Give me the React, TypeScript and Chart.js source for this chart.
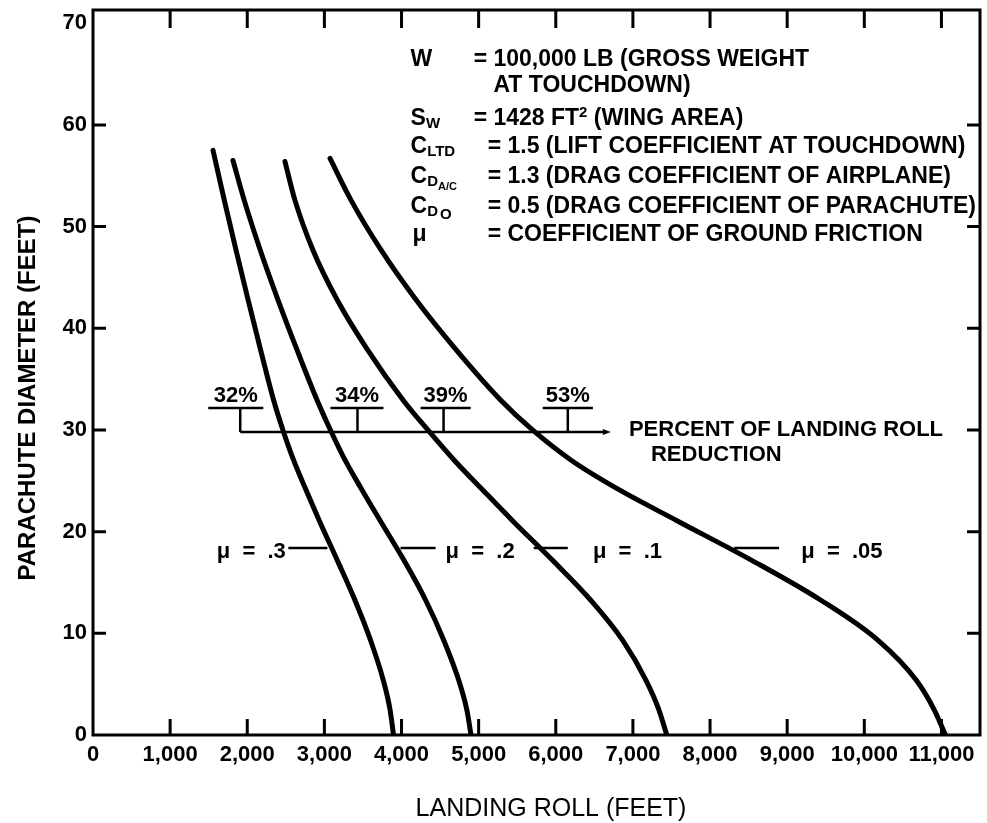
import React, { useEffect, useRef } from 'react';
import { Chart, registerables } from 'chart.js';

Chart.register(...registerables);

// ---- axis ticks ----
const xTickValues = [0, 1000, 2000, 3000, 4000, 5000, 6000, 7000, 8000, 9000, 10000, 11000];
const xTickLabels = ['0', '1,000', '2,000', '3,000', '4,000', '5,000', '6,000', '7,000', '8,000', '9,000', '10,000', '11,000'];
const yTickValues = [0, 10, 20, 30, 40, 50, 60, 70];
const yTickLabels = ['0', '10', '20', '30', '40', '50', '60', '70'];

// ---- curves (landing roll ft, parachute diameter ft) ----
const curveY = [52.6, 47.7, 42.8, 37.9, 32.9, 30.0, 27.0, 24.1, 21.1, 17.2, 13.3, 9.3, 5.4, 2.5, 0];
const mu30X = [1556, 1702, 1854, 2011, 2172, 2343, 2462, 2602, 2762, 2933, 3166, 3394, 3599, 3763, 3851, 3896];
const mu30Y = [57.5, ...curveY];
const mu20X = [1815, 1960, 2168, 2398, 2644, 2907, 3078, 3270, 3488, 3722, 4030, 4310, 4549, 4741, 4846, 4901];
const mu20Y = [56.5, ...curveY];
const mu10X = [2489, 2618, 2851, 3165, 3558, 4024, 4341, 4686, 5053, 5436, 5955, 6448, 6868, 7168, 7336, 7439];
const mu10Y = [56.4, ...curveY];
const mu05X = [3073, 3345, 3734, 4188, 4706, 5290, 5698, 6204, 6826, 7565, 8535, 9427, 10179, 10672, 10905, 11052];
const mu05Y = [56.7, ...curveY];

// ---- curve labels ----
const muLabels = ['μ = .3', 'μ = .2', 'μ = .1', 'μ = .05'];
const muLeaderStart = [2532, 3987, 5714, 8312];
const muLeaderEnd = [3039, 4442, 6156, 8896];
const muTextX = [2500, 4571, 6481, 9182];
const muTextAlign = ['right', 'left', 'left', 'left'];
const muLeaderY = 18.4;
const muTextY = 18.0;

// ---- percent of landing roll reduction ----
const pctLabels = ['32%', '34%', '39%', '53%'];
const pctStubX = [1909, 3429, 4545, 6156];
const pctBarStart = [1494, 3078, 4247, 5831];
const pctBarEnd = [2208, 3766, 4896, 6481];
const pctLabelY = 33.3;
const pctBarY = 32.15;
const pctLineY = 29.8;
const pctLineEnd = 6714;
const pctTitle = ['PERCENT OF LANDING ROLL', 'REDUCTION'];
const pctTitleX = [6948, 7234];
const pctTitleY = [30.0, 27.5];

// ---- parameter block ----
const paramRowsY = [66.4, 63.9, 60.6, 57.9, 54.9, 52.0, 49.2];

const FONT = '"Liberation Sans", Arial, Helvetica, sans-serif';

const overlayPlugin = {
  id: 'overlay',
  afterDraw(chart: any) {
    const { ctx, chartArea: ca, scales } = chart;
    const X = (v: number) => scales.x.getPixelForValue(v);
    const Y = (v: number) => scales.y.getPixelForValue(v);
    ctx.save();
    ctx.strokeStyle = '#000';
    ctx.fillStyle = '#000';
    ctx.lineCap = 'butt';

    // frame
    ctx.lineWidth = 3;
    ctx.strokeRect(ca.left, ca.top, ca.right - ca.left, ca.bottom - ca.top);

    // inward ticks
    xTickValues.forEach((v) => {
      if (v === 0) return;
      const p = X(v);
      ctx.beginPath();
      ctx.moveTo(p, ca.bottom);
      ctx.lineTo(p, ca.bottom - 16);
      ctx.moveTo(p, ca.top);
      ctx.lineTo(p, ca.top + 18);
      ctx.stroke();
    });
    yTickValues.forEach((v) => {
      if (v === 0 || v === 70) return;
      const p = Y(v);
      ctx.beginPath();
      ctx.moveTo(ca.left, p);
      ctx.lineTo(ca.left + 13, p);
      ctx.moveTo(ca.right, p);
      ctx.lineTo(ca.right - 13, p);
      ctx.stroke();
    });

    ctx.textBaseline = 'middle';

    // percent annotation
    ctx.lineWidth = 2.5;
    ctx.beginPath();
    ctx.moveTo(X(pctStubX[0]), Y(pctLineY));
    ctx.lineTo(X(pctLineEnd) - 4, Y(pctLineY));
    ctx.stroke();
    ctx.beginPath();
    ctx.moveTo(X(pctLineEnd), Y(pctLineY));
    ctx.lineTo(X(pctLineEnd) - 8, Y(pctLineY) - 3);
    ctx.lineTo(X(pctLineEnd) - 8, Y(pctLineY) + 3);
    ctx.closePath();
    ctx.fill();
    ctx.font = `bold 22px ${FONT}`;
    ctx.textAlign = 'center';
    pctLabels.forEach((lab, i) => {
      ctx.beginPath();
      ctx.moveTo(X(pctBarStart[i]), Y(pctBarY));
      ctx.lineTo(X(pctBarEnd[i]), Y(pctBarY));
      ctx.moveTo(X(pctStubX[i]), Y(pctBarY));
      ctx.lineTo(X(pctStubX[i]), Y(pctLineY));
      ctx.stroke();
      ctx.fillText(lab, (X(pctBarStart[i]) + X(pctBarEnd[i])) / 2, Y(pctLabelY));
    });
    ctx.textAlign = 'left';
    pctTitle.forEach((t, i) => ctx.fillText(t, X(pctTitleX[i]), Y(pctTitleY[i])));

    // mu labels
    muLabels.forEach((lab, i) => {
      ctx.beginPath();
      ctx.moveTo(X(muLeaderStart[i]), Y(muLeaderY));
      ctx.lineTo(X(muLeaderEnd[i]), Y(muLeaderY));
      ctx.stroke();
      ctx.textAlign = muTextAlign[i] as CanvasTextAlign;
      ctx.fillText(lab.replace(/ /g, '  '), X(muTextX[i]), Y(muTextY));
    });

    // parameter block
    const xs = X(4117);
    const xEq1 = X(4935);
    const xEq2 = X(5117);
    const big = `bold 23px ${FONT}`;
    const sub = `bold 15px ${FONT}`;
    const tiny = `bold 11px ${FONT}`;
    const r = paramRowsY.map(Y);
    ctx.textAlign = 'left';
    ctx.font = big;
    ctx.fillText('W', xs, r[0]);
    ctx.fillText('= 100,000 LB (GROSS WEIGHT', xEq1, r[0]);
    ctx.fillText('AT TOUCHDOWN)', xEq1 + ctx.measureText('= ').width, r[1]);
    // S_W
    ctx.fillText('S', xs, r[2]);
    let w = ctx.measureText('S').width;
    ctx.font = sub;
    ctx.fillText('W', xs + w, r[2] + 5);
    ctx.font = big;
    ctx.fillText('= 1428 FT', xEq1, r[2]);
    w = ctx.measureText('= 1428 FT').width;
    ctx.font = sub;
    ctx.fillText('2', xEq1 + w, r[2] - 6);
    const w2 = ctx.measureText('2').width;
    ctx.font = big;
    ctx.fillText(' (WING AREA)', xEq1 + w + w2, r[2]);
    // C_LTD
    ctx.fillText('C', xs, r[3]);
    w = ctx.measureText('C').width;
    ctx.font = sub;
    ctx.fillText('LTD', xs + w, r[3] + 6);
    ctx.font = big;
    ctx.fillText('= 1.5 (LIFT COEFFICIENT AT TOUCHDOWN)', xEq2, r[3]);
    // C_DA/C
    ctx.fillText('C', xs, r[4]);
    ctx.font = sub;
    ctx.fillText('D', xs + w, r[4] + 5);
    const wd = ctx.measureText('D').width;
    ctx.font = tiny;
    ctx.fillText('A/C', xs + w + wd, r[4] + 10);
    ctx.font = big;
    ctx.fillText('= 1.3 (DRAG COEFFICIENT OF AIRPLANE)', xEq2, r[4]);
    // C_DO
    ctx.fillText('C', xs, r[5]);
    ctx.font = sub;
    ctx.fillText('D', xs + w, r[5] + 6);
    ctx.fillText('O', xs + w + wd + 2, r[5] + 9);
    ctx.font = big;
    ctx.fillText('= 0.5 (DRAG COEFFICIENT OF PARACHUTE)', xEq2, r[5]);
    // mu
    ctx.fillText('μ', xs + 2, r[6]);
    ctx.fillText('= COEFFICIENT OF GROUND FRICTION', xEq2, r[6]);

    // axis titles
    ctx.font = `bold 24px ${FONT}`;
    ctx.textAlign = 'center';
    ctx.save();
    ctx.translate(28, 398);
    ctx.rotate(-Math.PI / 2);
    ctx.fillText('PARACHUTE DIAMETER (FEET)', 0, 0);
    ctx.restore();
    ctx.font = `25px ${FONT}`;
    ctx.fillText('LANDING ROLL (FEET)', 551, 809);

    ctx.restore();
  },
};

function mk(xs: number[], ys: number[]) {
  return xs.map((x, i) => ({ x, y: ys[i] }));
}

export default function App() {
  const ref = useRef<HTMLCanvasElement | null>(null);
  useEffect(() => {
    if (!ref.current) return;
    const ds = (label: string, xs: number[], ys: number[]) => ({
      label,
      data: mk(xs, ys),
      showLine: true,
      borderColor: '#000',
      backgroundColor: '#000',
      borderWidth: 5,
      pointRadius: 0,
      cubicInterpolationMode: 'monotone' as const,
      borderCapStyle: 'round' as const,
    });
    const chart = new Chart(ref.current, {
      type: 'scatter',
      data: {
        datasets: [
          ds('μ = .3', mu30X, mu30Y),
          ds('μ = .2', mu20X, mu20Y),
          ds('μ = .1', mu10X, mu10Y),
          ds('μ = .05', mu05X, mu05Y),
        ],
      },
      options: {
        animation: false,
        responsive: true,
        maintainAspectRatio: false,
        layout: { padding: { top: 10, right: 7, left: 0, bottom: 0 } },
        plugins: { legend: { display: false }, tooltip: { enabled: false } },
        scales: {
          x: {
            type: 'linear',
            min: 0,
            max: 11500,
            grid: { display: false, drawTicks: false },
            border: { display: false },
            afterBuildTicks: (axis: any) => {
              axis.ticks = xTickValues.map((v) => ({ value: v }));
            },
            afterFit: (axis: any) => {
              axis.height = 88;
              axis.paddingLeft = 0;
              axis.paddingRight = 0;
            },
            ticks: {
              autoSkip: false,
              maxRotation: 0,
              padding: 7,
              color: '#000',
              font: { family: FONT, size: 22, weight: 'bold' },
              callback: (v: any) => xTickLabels[xTickValues.indexOf(Number(v))] ?? '',
            },
          },
          y: {
            type: 'linear',
            min: 0,
            max: 71.3,
            grid: { display: false, drawTicks: false },
            border: { display: false },
            afterBuildTicks: (axis: any) => {
              axis.ticks = yTickValues.map((v) => ({ value: v }));
            },
            afterFit: (axis: any) => {
              axis.width = 93;
              axis.paddingTop = 0;
              axis.paddingBottom = 0;
            },
            ticks: {
              autoSkip: false,
              padding: 6,
              color: '#000',
              font: { family: FONT, size: 22, weight: 'bold' },
              callback: (v: any) => yTickLabels[yTickValues.indexOf(Number(v))] ?? '',
            },
          },
        },
      },
      plugins: [overlayPlugin],
    });
    return () => chart.destroy();
  }, []);
  return (
    <div style={{ position: 'absolute', left: 0, top: 0, width: 987, height: 823, background: '#fff' }}>
      <canvas ref={ref} />
    </div>
  );
}
